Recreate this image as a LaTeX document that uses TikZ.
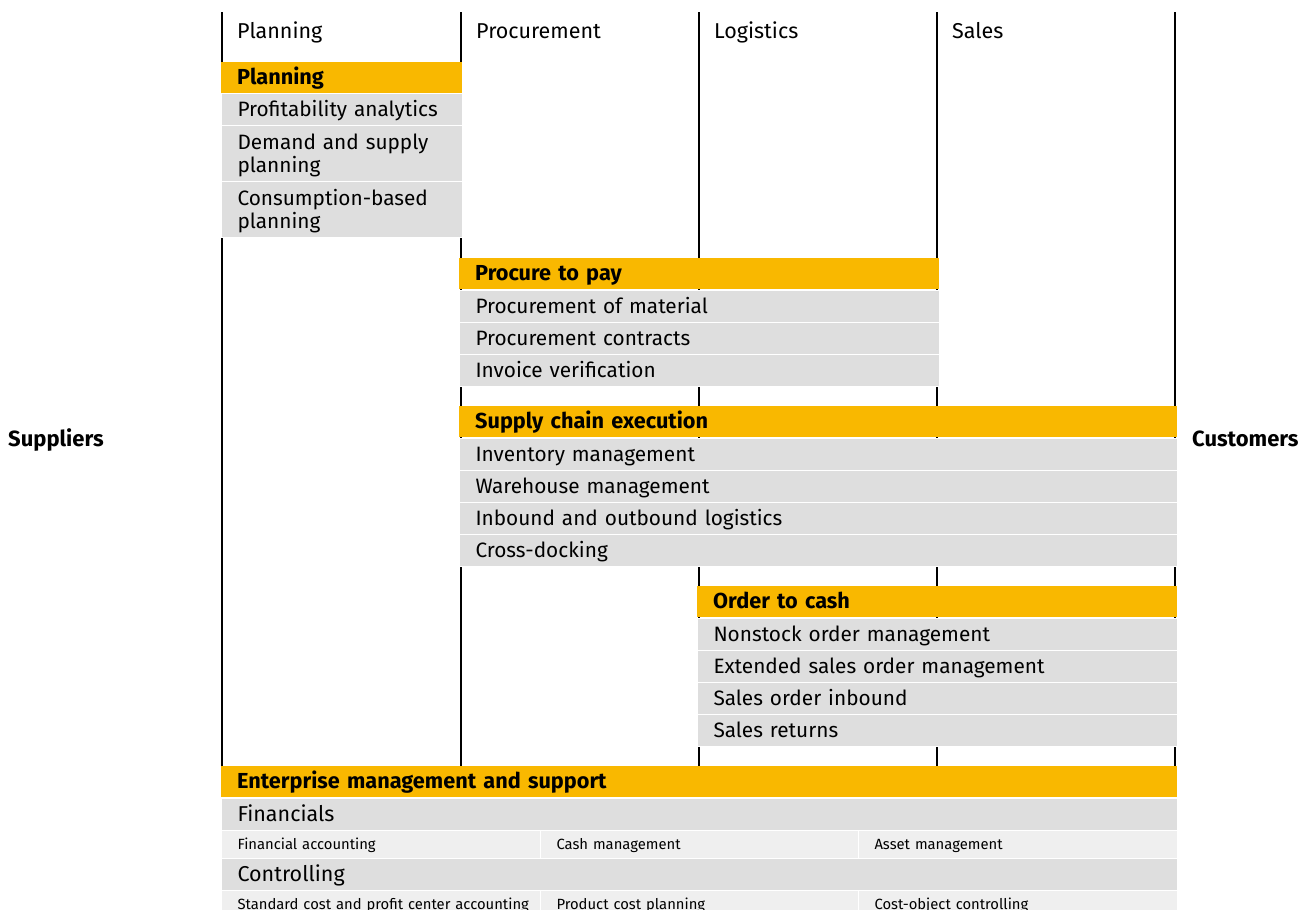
\documentclass[tikz,border=0pt]{standalone}
\usepackage{fontspec}
\setmainfont{Fira Sans}

\definecolor{sapyellow}{HTML}{F9B800}
\definecolor{itemgray}{HTML}{DEDEDE}
\definecolor{subgray}{HTML}{EFEFEF}

\tikzset{
  lane/.style={line width=2.4pt, black},
  lanelabel/.style={anchor=base west, inner sep=0pt, font=\fontsize{21.5}{24}\selectfont},
  side/.style={anchor=base west, inner sep=0pt, font=\bfseries\fontsize{22}{24}\selectfont},
  headbox/.style={anchor=north west, fill=sapyellow, minimum height=31pt,
    inner xsep=16pt, inner ysep=0pt, text width=#1, align=left,
    text height=16pt, text depth=3pt,
    font=\bfseries\fontsize{21.7}{23}\selectfont},
  itembox/.style={anchor=north west, fill=itemgray, draw=white, line width=1pt,
    minimum height=32pt, inner xsep=16pt, inner ysep=0pt, text width=#1, align=left,
    text height=16pt, text depth=3pt,
    font=\fontsize{20.8}{23}\selectfont},
  twoline/.style={minimum height=56pt, text height=17pt, text depth=25pt},
  subbox/.style={anchor=north west, fill=subgray, draw=white, line width=1pt,
    minimum height=28pt, inner xsep=16pt, inner ysep=0pt, text width=#1, align=left,
    text height=12pt, text depth=2pt,
    font=\fontsize{14.8}{17}\selectfont}
}

\begin{document}
\begin{tikzpicture}[x=1pt, y=-1pt]
    \useasboundingbox (0,0) rectangle (1310,910);
    \clip (0,0) rectangle (1310,910);

    % lanes
    \foreach \x in {222,461,699,937,1175}
        \draw[lane] (\x,12) -- (\x,766);

    \node[lanelabel] (lplan) at (237,38) {Planning};
    \node[lanelabel] (lproc) at (476,38) {Procurement};
    \node[lanelabel] (llog) at (714,38) {Logistics};
    \node[lanelabel] (lsales) at (952,38) {Sales};

    \node[side] (suppliers) at (8,446) {Suppliers};
    \node[side] (customers) at (1192,446) {Customers};

    % planning
    \node[headbox=209pt] (plan) at (221,62) {Planning};
    \node[itembox=209pt] (plan1) at (221,93) {Profitability analytics};
    \node[itembox=209pt, twoline] (plan2) at (221,125) {Demand and supply\\planning};
    \node[itembox=209pt, twoline] (plan3) at (221,181) {Consumption-based\\planning};

    % procure to pay
    \node[headbox=448pt] (p2p) at (459,258) {Procure to pay};
    \node[itembox=448pt] (p2p1) at (459,290) {Procurement of material};
    \node[itembox=448pt] (p2p2) at (459,322) {Procurement contracts};
    \node[itembox=448pt] (p2p3) at (459,354) {Invoice verification};

    % supply chain execution
    \node[headbox=686pt] (sce) at (459,406) {Supply chain execution};
    \node[itembox=686pt] (sce1) at (459,438) {Inventory management};
    \node[itembox=686pt] (sce2) at (459,470) {Warehouse management};
    \node[itembox=686pt] (sce3) at (459,502) {Inbound and outbound logistics};
    \node[itembox=686pt] (sce4) at (459,534) {Cross-docking};

    % order to cash
    \node[headbox=448pt] (o2c) at (697,586) {Order to cash};
    \node[itembox=448pt] (o2c1) at (697,618) {Nonstock order management};
    \node[itembox=448pt] (o2c2) at (697,650) {Extended sales order management};
    \node[itembox=448pt] (o2c3) at (697,682) {Sales order inbound};
    \node[itembox=448pt] (o2c4) at (697,714) {Sales returns};

    % enterprise management
    \node[headbox=924pt] (ems) at (221,766) {Enterprise management and support};
    \node[itembox=924pt, font=\fontsize{21.5}{24}\selectfont] (fin) at (221,798) {Financials};
    \node[subbox=287pt] (fin1) at (221,830) {Financial accounting};
    \node[subbox=286pt] (fin2) at (540,830) {Cash management};
    \node[subbox=287pt] (fin3) at (858,830) {Asset management};
    \node[itembox=924pt, font=\fontsize{21.5}{24}\selectfont] (co) at (221,858) {Controlling};
    \node[subbox=287pt] (co1) at (221,890) {\mbox{Standard cost and profit center accounting}};
    \node[subbox=286pt] (co2) at (540,890) {Product cost planning};
    \node[subbox=287pt] (co3) at (858,890) {Cost-object controlling};

\end{tikzpicture}
\end{document}
